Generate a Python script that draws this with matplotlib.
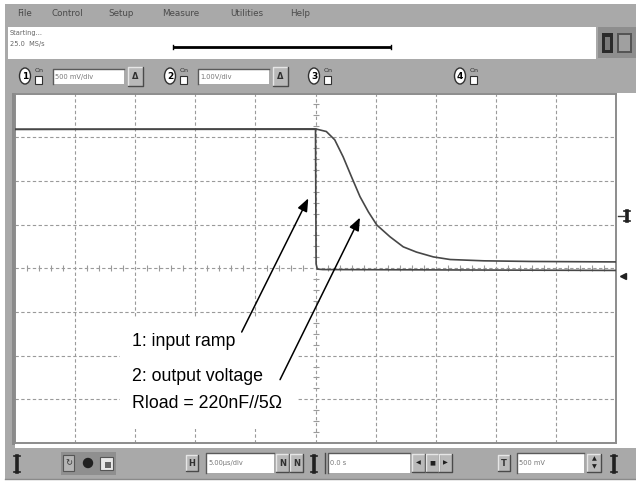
import matplotlib
matplotlib.use("Agg")
import matplotlib.pyplot as plt
from matplotlib.patches import Rectangle, Ellipse, Circle
from matplotlib import font_manager

t_sortie = [-25, 0.0, 0.9, 1.6, 2.3, 3.0, 3.7, 4.4, 5.1, 6.2, 7.3, 8.4, 9.8, 11.2, 14.0, 18.0, 25]
v_sortie = [3.18, 3.19, 3.13, 2.94, 2.55, 2.09, 1.64, 1.29, 0.99, 0.72, 0.49, 0.37, 0.26, 0.20, 0.17, 0.155, 0.145]
t_entree = [-25, 0.0, 0.05, 0.15, 0.6, 25]
v_entree = [3.18, 3.18, 0.10, -0.02, -0.03, -0.05]

# textes de l'interface
menus = ["File", "Control", "Setup", "Measure", "Utilities", "Help"]
canaux = ["1", "2", "3", "4"]
echelles = ["500 mV/div", "1.00V/div"]
base_temps = "5.00\u03bcs/div"
retard = "0.0 s"
niveau = "500 mV"
legendes = ["1: input ramp", "2: output voltage", "Rload = 220nF//5\u03a9"]

noms = {f.name for f in font_manager.fontManager.ttflist}
if "Liberation Sans Narrow" in noms:
    police, taille = ["Liberation Sans Narrow", "DejaVu Sans"], 15
else:
    police, taille = ["Liberation Sans", "DejaVu Sans"], 12.8

W, H = 636, 483
gris = "#a9a9a9"
fig = plt.figure(figsize=(W / 100, H / 100), dpi=100)
fig.patch.set_facecolor("white")

bg = fig.add_axes([0, 0, 1, 1])
bg.set_xlim(0, W)
bg.set_ylim(H, 0)
bg.axis("off")


def rect(x0, y0, x1, y1, fc, ec="none", lw=0, z=1):
    bg.add_patch(Rectangle((x0, y0), x1 - x0, y1 - y0, facecolor=fc, edgecolor=ec, linewidth=lw, zorder=z))


def bouton(x0, y0, x1, y1, texte=None):
    rect(x0, y0, x1, y1, "#b9b9b9", z=2)
    bg.plot([x0, x0, x1], [y1, y0, y0], color="#e6e6e6", lw=1, zorder=3)
    bg.plot([x0, x1, x1], [y1, y1, y0], color="#4a4a4a", lw=1, zorder=3)
    if texte:
        bg.text((x0 + x1) / 2, (y0 + y1) / 2, texte, fontsize=6, ha="center", va="center",
                color="#303030", zorder=4, fontweight="bold")


def champ(x0, y0, x1, y1, texte):
    rect(x0, y0, x1, y1, "white", z=2)
    bg.plot([x0, x0, x1], [y1, y0, y0], color="#5a5a5a", lw=1, zorder=3)
    bg.text(x0 + 2, (y0 + y1) / 2, texte, fontsize=4.8, ha="left", va="center", color="#777777", zorder=4)


def barre_i(x, y0, y1):
    bg.plot([x, x], [y0, y1], color="#202020", lw=2.6, zorder=4)
    bg.plot([x - 3, x + 3], [y0, y0], color="#202020", lw=1.2, zorder=4)
    bg.plot([x - 3, x + 3], [y1, y1], color="#202020", lw=1.2, zorder=4)


# cadre gris de la fenêtre
rect(5, 4, W, 480, gris)
rect(15, 93, W, 448, "white")
rect(12, 93, 15, 445, "#8a8a8a")

# barre de menus
for nom, x in zip(menus, [17, 52, 108, 162, 230, 290]):
    bg.text(x, 13, nom, fontsize=6.3, ha="left", va="center", color="#4a4a4a")

# barre d'état
rect(8, 27, 596, 59, "white")
bg.text(10, 33, "Starting...", fontsize=4.8, ha="left", va="center", color="#666666")
bg.text(10, 44, "25.0  MS/s", fontsize=4.8, ha="left", va="center", color="#666666")
bg.plot([173, 391], [47, 47], color="black", lw=2, solid_capstyle="butt")
bg.plot([173, 173], [45, 49], color="black", lw=1)
bg.plot([391, 391], [45, 49], color="black", lw=1)
rect(598, 27, 636, 58, "#8e8e8e")
rect(602, 33, 613, 53, "#2a2a2a", z=2)
rect(605, 37, 610, 50, "#7a7a7a", z=3)
rect(617, 33, 632, 53, "#555555", z=2)
rect(619, 35, 630, 51, "#a0a0a0", z=3)

# barre des voies
for i, (num, x) in enumerate(zip(canaux, [25, 170, 314, 460])):
    bg.add_patch(Ellipse((x, 76), 11, 16, facecolor="white", edgecolor="#303030", lw=1, zorder=3))
    bg.text(x, 76.5, num, fontsize=6.5, ha="center", va="center", fontweight="bold", zorder=4)
    bg.text(x + 10, 70, "On", fontsize=4.5, ha="left", va="center", color="#303030", zorder=4)
    rect(x + 10, 76, x + 17, 84, "white", ec="#303030", lw=0.8, z=3)
    if i < len(echelles):
        champ(x + 28, 69, x + 99, 84, echelles[i])
        bouton(x + 103, 67, x + 118, 86, "\u0394")

# barre du bas
barre_i(17, 456, 472)
rect(61, 452, 116, 475, "#8f8f8f")
rect(63, 455, 74, 471, "#b5b5b5", ec="#555555", lw=0.8, z=2)
bg.text(68.5, 463, "\u21bb", fontsize=6, ha="center", va="center", color="#333333", zorder=3)
bg.add_patch(Circle((88, 463), 5.2, facecolor="#202020", zorder=3))
rect(100, 457, 113, 470, "#e8e8e8", ec="#555555", lw=0.8, z=2)
rect(105, 462, 111, 468, "#666666", z=3)
bouton(186, 455, 198, 471, "H")
champ(206, 453, 274, 473, base_temps)
bouton(276, 454, 289, 472, "N")
bouton(290, 454, 303, 472, "N")
barre_i(314, 456, 472)
bg.plot([325, 325], [453, 473], color="#4a4a4a", lw=1)
champ(328, 453, 410, 473, retard)
for k, sym in enumerate(["\u25c0", "\u25a0", "\u25b6"]):
    bouton(412 + 13.5 * k, 454, 425 + 13.5 * k, 472)
    bg.text(418.5 + 13.5 * k, 463, sym, fontsize=4.5, ha="center", va="center", color="#202020", zorder=4)
bouton(498, 455, 510, 471, "T")
champ(517, 453, 584, 473, niveau)
bouton(587, 454, 601, 472)
bg.text(594, 459, "\u25b2", fontsize=4.5, ha="center", va="center", color="#202020", zorder=4)
bg.text(594, 467, "\u25bc", fontsize=4.5, ha="center", va="center", color="#202020", zorder=4)
barre_i(614, 456, 472)
bg.plot([5, W], [479, 479], color="#8a8a8a", lw=1)

# repères à droite de l'écran
bg.plot([618, 624], [216, 216], color="#333333", lw=1)
barre_i(627, 211, 221)
bg.plot([623], [276], marker="<", ms=5, color="#222222", ls="none")

# écran de l'oscilloscope
ax = fig.add_axes([15 / W, (H - 443) / H, 601 / W, 349.5 / H])
ax.set_xlim(-25, 25)
ax.set_ylim(-4, 4)
ax.set_facecolor("white")
ax.set_xticks([])
ax.set_yticks([])
for s in ax.spines.values():
    s.set_color("#8c8c8c")
    s.set_linewidth(1.4)

style_grille = dict(color="#9a9a9a", lw=0.8, dashes=(3, 2.2), zorder=1)
for x in range(-20, 25, 5):
    ax.axvline(x, **style_grille)
for y in range(-3, 4):
    ax.axhline(y, **style_grille)

graduations_t = [t for t in range(-24, 25) if t % 5 != 0]
graduations_v = [v / 4 for v in range(-15, 16) if v % 4 != 0]
ax.plot(graduations_t, [0] * len(graduations_t), ls="none", marker="|", ms=4.5, mew=0.8, color="#9a9a9a", zorder=1)
ax.plot([0] * len(graduations_v), graduations_v, ls="none", marker="_", ms=4.5, mew=0.8, color="#9a9a9a", zorder=1)

ax.plot(t_entree, v_entree, color="#474747", lw=1.2, zorder=4)
ax.plot(t_sortie, v_sortie, color="#474747", lw=1.2, zorder=4)

# légende sur fond blanc
ax.add_patch(Rectangle((-16.26, -3.67), 14.8, 2.52, facecolor="white", edgecolor="none", zorder=3))
for txt, yb in zip(legendes, [-1.77, -2.57, -3.20]):
    ax.text(-15.24, yb, txt, fontsize=taille, family=police, ha="left", va="baseline", color="black", zorder=5)

fleche = dict(arrowstyle="-|>,head_length=0.55,head_width=0.22", color="black", lw=1.1,
              mutation_scale=14, shrinkA=0, shrinkB=0)
ax.annotate("", xy=(-0.6, 1.6), xytext=(-6.14, -1.46), arrowprops=fleche, zorder=5)
ax.annotate("", xy=(3.7, 1.16), xytext=(-2.95, -2.55), arrowprops=fleche, zorder=5)

plt.savefig("out.png", dpi=100)
